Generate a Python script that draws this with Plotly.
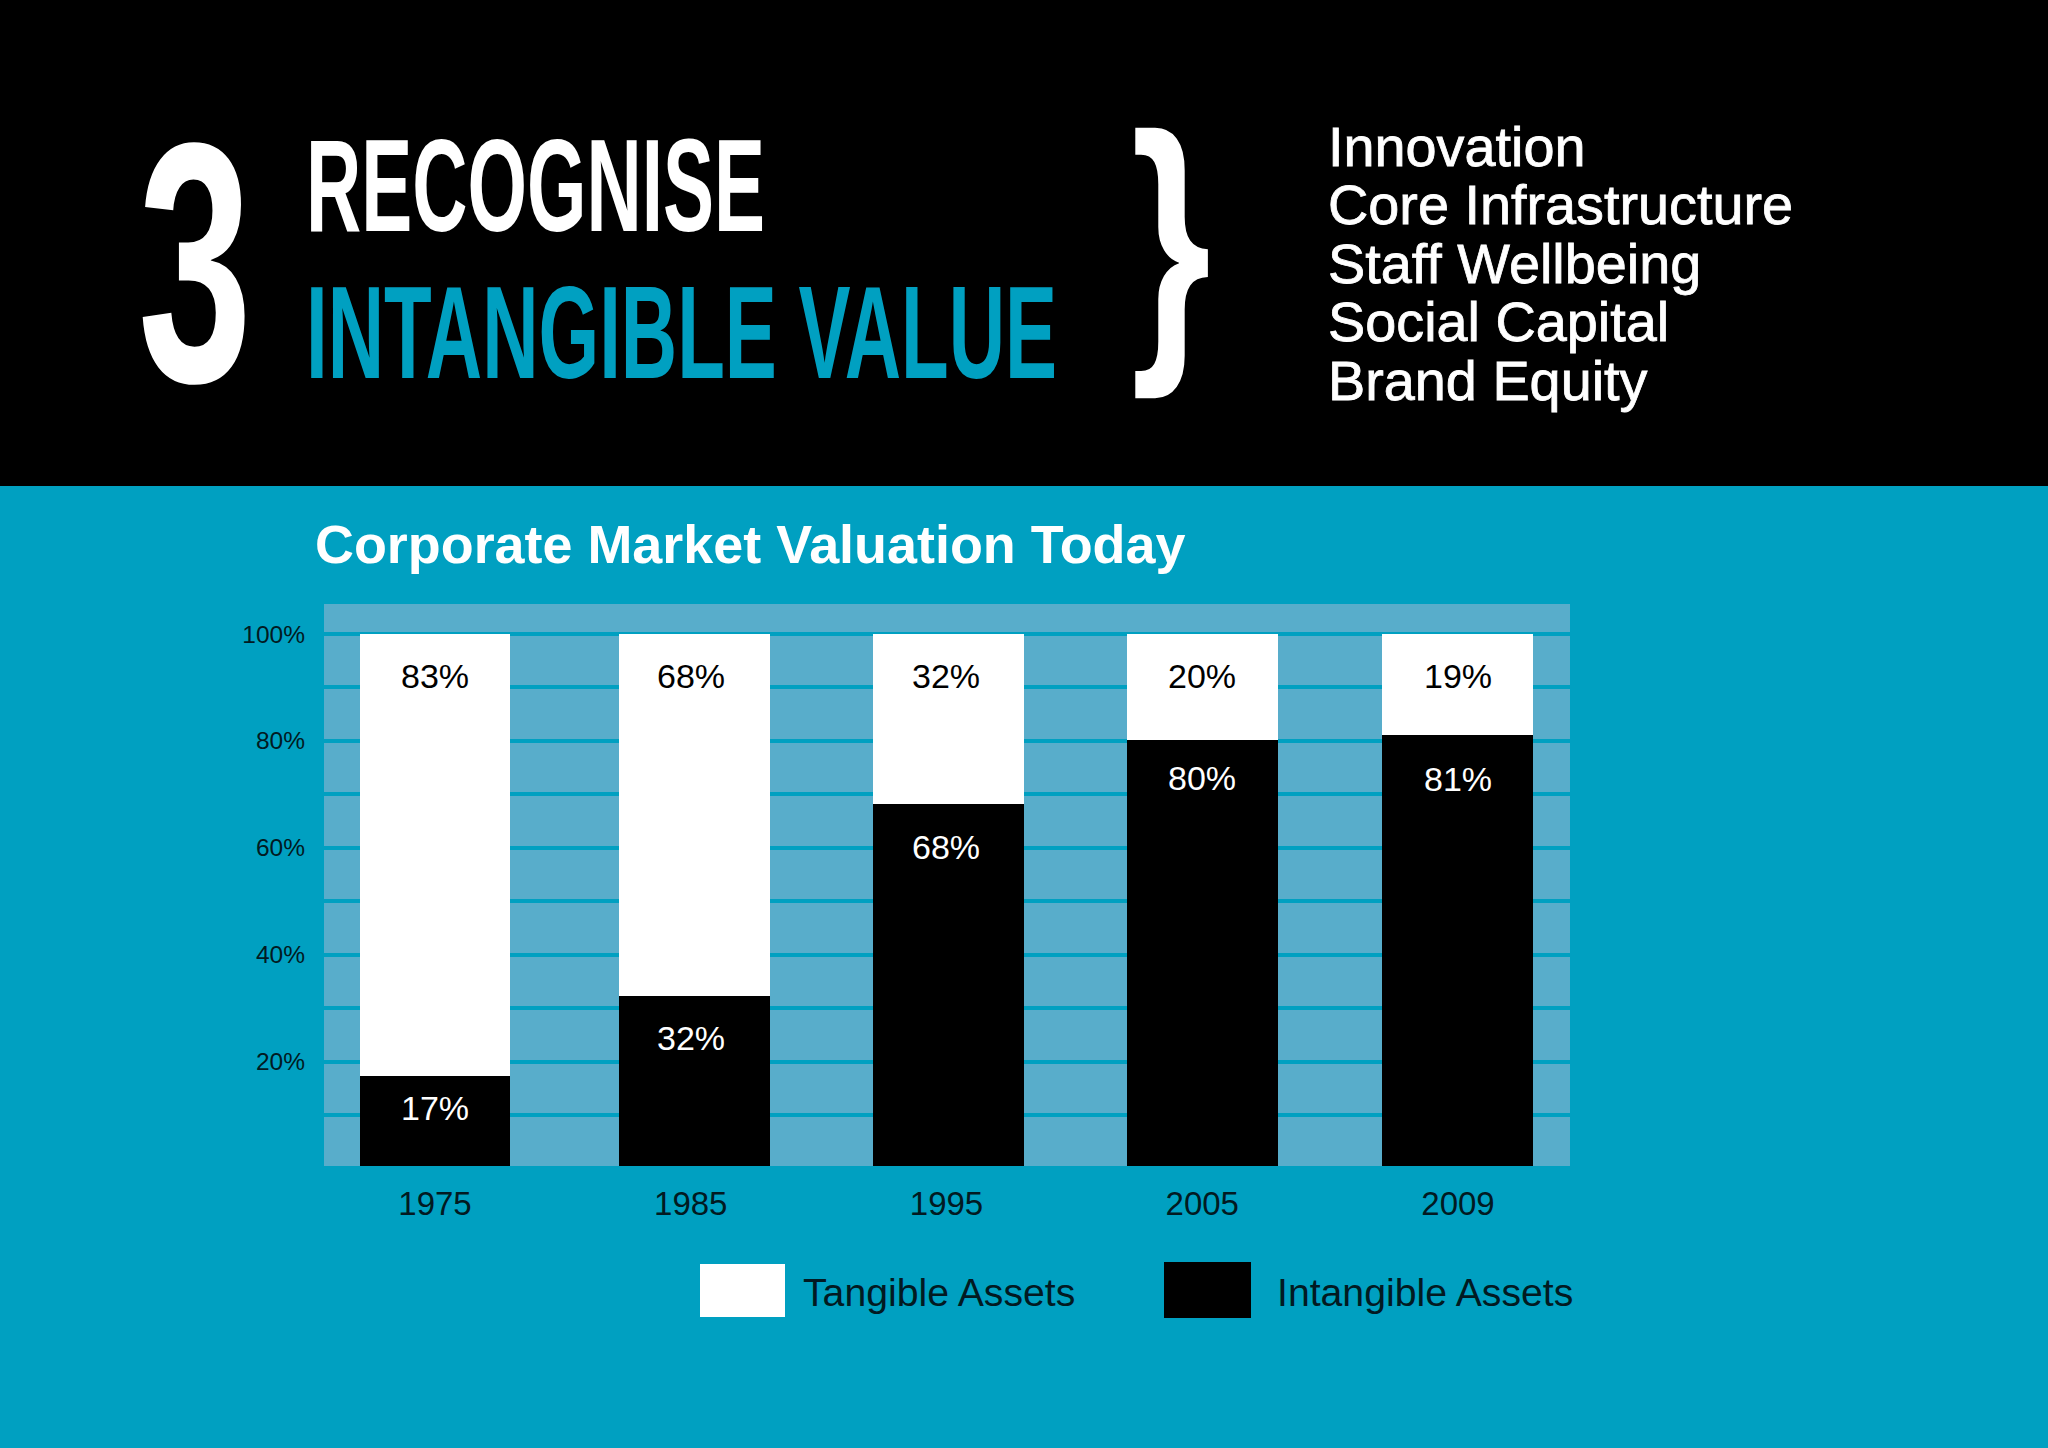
import json
import plotly.graph_objects as go

# ---- data ----
years = ["1975", "1985", "1995", "2005", "2009"]
tangible = [83, 68, 32, 20, 19]
intangible = [17, 32, 68, 80, 81]
grid_ticks = [10, 20, 30, 40, 50, 60, 70, 80, 90, 100]
grid_labels = ["", "20%", "", "40%", "", "60%", "", "80%", "", "100%"]
side_list = ["Innovation", "Core Infrastructure", "Staff Wellbeing", "Social Capital", "Brand Equity"]

# ---- style ----
W, H = 2048, 1448
TEAL = "#00A0C1"
BAND = "#58ADCB"
BAR_WIDTH = 0.59
bar_nudge = [0, 0.013, 0.008, 0, -0.003]
tangible_shift = [-42, -42, -42, -42, -42]
intangible_shift = [-32, -42, -43, -38, -44]


def px(x):
    return x / W


def py(y):
    return 1 - y / H


def text(x, y, s, size, color, family="Liberation Sans", weight="normal", xanchor="left"):
    return dict(
        x=px(x), y=py(y), xref="paper", yref="paper", text=s, showarrow=False,
        xanchor=xanchor, yanchor="middle",
        font=dict(family=family, size=size, color=color, weight=weight),
    )


offsets = [-BAR_WIDTH / 2 + n for n in bar_nudge]
fig = go.Figure()
fig.add_trace(go.Scatter(x=years, y=[None] * 5, mode="markers", yaxis="y", showlegend=False, hoverinfo="skip"))
fig.add_trace(go.Bar(x=years, y=intangible, name="Intangible Assets", marker=dict(color="#000000", line_width=0),
                     width=BAR_WIDTH, offset=offsets, yaxis="y2", showlegend=False))
fig.add_trace(go.Bar(x=years, y=tangible, name="Tangible Assets", marker=dict(color="#FFFFFF", line_width=0),
                     width=BAR_WIDTH, offset=offsets, yaxis="y2", showlegend=False))

annotations = []
for k, (t, i, ts, si) in enumerate(zip(tangible, intangible, tangible_shift, intangible_shift)):
    annotations.append(dict(x=k, y=t + i, xref="x", yref="y2", yshift=ts, text=f"{t}%", showarrow=False,
                            font=dict(family="Liberation Sans", size=34, color="#000000")))
    annotations.append(dict(x=k, y=i, xref="x", yref="y2", yshift=si, text=f"{i}%", showarrow=False,
                            font=dict(family="Liberation Sans", size=34, color="#FFFFFF")))

HEAD = "Liberation Sans"
annotations += [
    text(136, 262, "3", 342, "#FFFFFF", HEAD, "bold"),
    text(304, 186, "RECOGNISE", 131, "#FFFFFF", HEAD, "bold"),
    text(304, 332, "INTANGIBLE VALUE", 131, TEAL, HEAD, "bold"),
    text(1129, 238, "}", 290, "#FFFFFF", HEAD, "bold"),
    text(313, 544, "Corporate Market Valuation Today", 53.9, "#FFFFFF", weight="bold"),
    text(801, 1292, "Tangible Assets", 39.2, "#021A22"),
    text(1275, 1292, "Intangible Assets", 39.2, "#021A22"),
]
for n, line in enumerate(side_list):
    annotations.append(text(1326, 146 + n * 58.6, line, 55.8, "#FFFFFF"))

shapes = [
    dict(type="rect", xref="paper", yref="paper", x0=0, x1=1, y0=py(486), y1=1,
         fillcolor="#000000", line_width=0, layer="below"),
    dict(type="rect", xref="paper", yref="paper", x0=px(700), x1=px(785), y0=py(1317), y1=py(1264),
         fillcolor="#FFFFFF", line_width=0),
    dict(type="rect", xref="paper", yref="paper", x0=px(1164), x1=px(1251), y0=py(1318), y1=py(1262),
         fillcolor="#000000", line_width=0),
]

fig.update_layout(
    width=W, height=H, margin=dict(l=0, r=0, t=0, b=0), autosize=False,
    paper_bgcolor=TEAL, plot_bgcolor=BAND, barmode="stack", showlegend=False,
    xaxis=dict(domain=[px(324), px(1570)], type="category", range=[-0.434, 4.438], showgrid=False,
               zeroline=False, showline=False, ticks="", ticklabelstandoff=15,
               tickfont=dict(family="Liberation Sans", size=33, color="#021A22")),
    yaxis=dict(domain=[py(1166), py(604)], range=[0.486, 105.6], tickmode="array",
               tickvals=grid_ticks, ticktext=grid_labels, showgrid=True, gridcolor=TEAL, gridwidth=3.5,
               zeroline=False, showline=False, ticks="", ticklabelstandoff=18,
               tickfont=dict(family="Liberation Sans", size=24.5, color="#021A22")),
    yaxis2=dict(domain=[py(1166), py(604)], range=[0, 105.64], overlaying="y", side="left", visible=False,
                showgrid=False, zeroline=False),
    annotations=annotations, shapes=shapes,
)

# The display heading is a condensed face: squeeze these texts to their measured widths.
heading_widths = {"3": 114, "RECOGNISE": 459, "INTANGIBLE VALUE": 751, "}": 80}
post = """
document.body.style.margin = '0';
document.body.style.background = '%s';
var widths = %s;
var medium = %s;
document.querySelectorAll('.annotation-text').forEach(function (el) {
  if (medium.indexOf(el.textContent) >= 0) {
    el.style.stroke = '#FFFFFF';
    el.style.strokeWidth = '0.8px';
  }
  var w = widths[el.textContent];
  if (!w) return;
  var k = w / el.getBBox().width;
  el.style.transformBox = 'fill-box';
  el.style.transformOrigin = '0 50%%';
  el.style.transform = 'scaleX(' + k + ')';
});
""" % (TEAL, json.dumps(heading_widths), json.dumps(side_list))

fig.write_html("out.html", post_script=post, config={"displayModeBar": False})
